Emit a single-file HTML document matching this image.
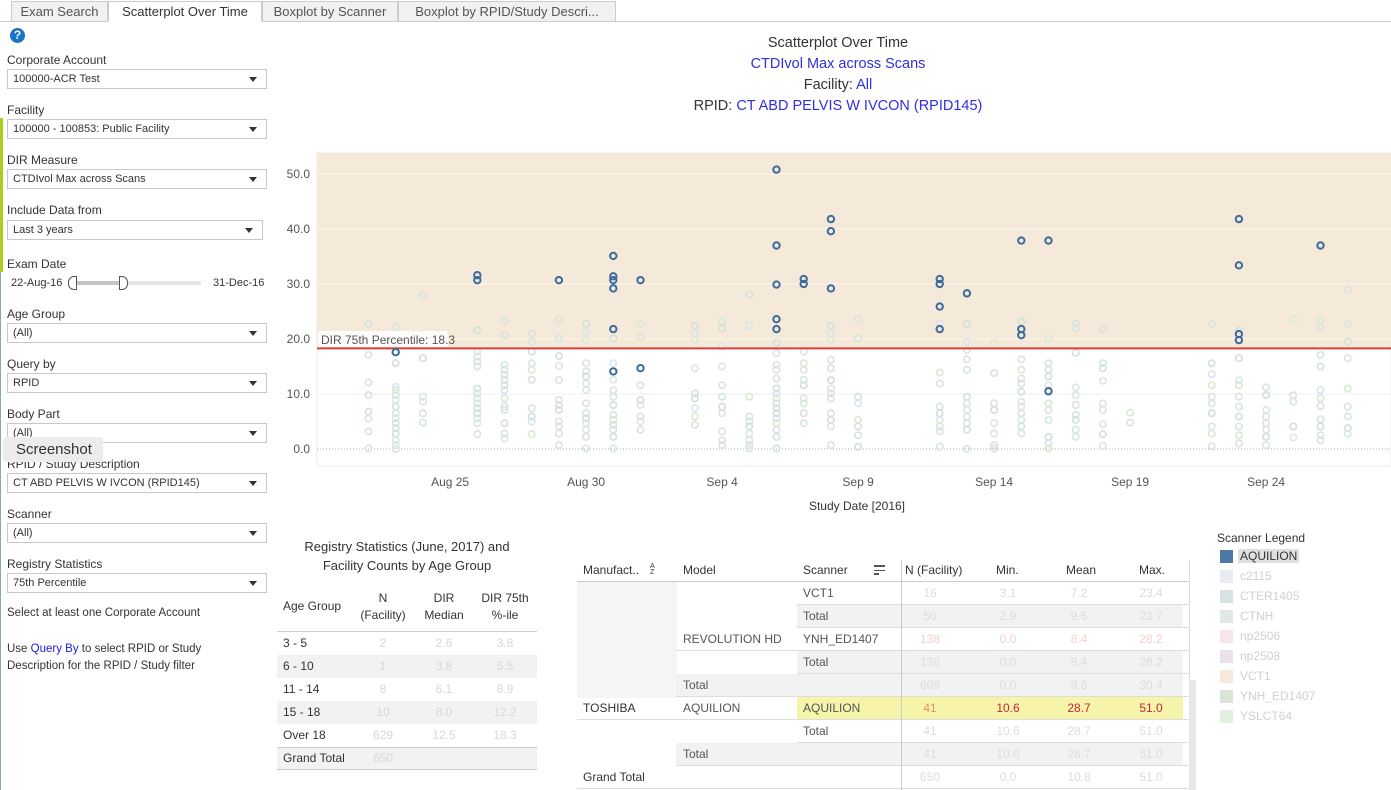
<!DOCTYPE html>
<html><head><meta charset="utf-8">
<style>
*{box-sizing:border-box;margin:0;padding:0}
body{width:1391px;height:790px;overflow:hidden;background:#fff;font-family:"Liberation Sans",sans-serif;color:#333;position:relative}
.abs{position:absolute;white-space:nowrap}
.lbl{font-size:12px;color:#333}
.dd{position:absolute;height:20px;border:1px solid #c8c8c8;background:#fff;font-size:11px;color:#333;padding:3px 0 0 5px}
.dd::after{content:"";position:absolute;right:9px;top:7px;border-left:4px solid transparent;border-right:4px solid transparent;border-top:5px solid #333}
.tab{position:absolute;top:1px;height:21px;border:1px solid #ccc;background:#f1f1f1;font-size:13px;color:#555;padding:2px 0 0 0;text-align:center}
.t{font-size:12px;position:absolute;white-space:nowrap}
.fade{color:#d8d8d8}
</style></head><body>
<div class="abs" style="left:0;top:21px;width:1391px;height:1px;background:#ccc"></div>
<div class="tab" style="left:11px;width:97px">Exam Search</div>
<div class="tab" style="left:108px;width:154px;background:#fff;border-bottom-color:#fff;color:#333">Scatterplot Over Time</div>
<div class="tab" style="left:262px;width:136px">Boxplot by Scanner</div>
<div class="tab" style="left:398px;width:218px">Boxplot by RPID/Study Descri...</div>

<div class="abs" style="left:0;top:118px;width:3px;height:154px;background:#a8d21a"></div>
<div class="abs" style="left:0;top:272px;width:1px;height:518px;background:#8aa"></div>
<div class="abs" style="left:10px;top:28px;width:15px;height:15px;border-radius:50%;background:#1a73c8;color:#fff;font-size:12px;font-weight:bold;text-align:center;line-height:15px">?</div>

<div class="abs lbl" style="left:7px;top:53px">Corporate Account</div>
<div class="dd" style="left:7px;top:69px;width:260px">100000-ACR Test</div>
<div class="abs lbl" style="left:7px;top:103px">Facility</div>
<div class="dd" style="left:7px;top:119px;width:260px">100000 - 100853: Public Facility</div>
<div class="abs lbl" style="left:7px;top:153px">DIR Measure</div>
<div class="dd" style="left:7px;top:169px;width:260px">CTDIvol Max across Scans</div>
<div class="abs lbl" style="left:7px;top:203px">Include Data from</div>
<div class="dd" style="left:7px;top:220px;width:256px">Last 3 years</div>
<div class="abs lbl" style="left:7px;top:257px">Exam Date</div>
<div class="abs" style="left:11px;top:277px;font-size:11px">22-Aug-16</div>
<div class="abs" style="left:213px;top:277px;font-size:11px">31-Dec-16</div>
<div class="abs" style="left:72px;top:281px;width:129px;height:4px;background:#e6e6e6"></div>
<div class="abs" style="left:73px;top:281px;width:50px;height:4px;background:#c4c4c4"></div>
<div class="abs" style="left:68px;top:276px;width:9px;height:14px;border:1px solid #555;background:#fff;border-radius:6px 0 0 6px"></div>
<div class="abs" style="left:119px;top:276px;width:9px;height:14px;border:1px solid #555;background:#fff;border-radius:0 6px 6px 0"></div>

<div class="abs lbl" style="left:7px;top:307px">Age Group</div>
<div class="dd" style="left:7px;top:323px;width:260px">(All)</div>
<div class="abs lbl" style="left:7px;top:357px">Query by</div>
<div class="dd" style="left:7px;top:373px;width:260px">RPID</div>
<div class="abs lbl" style="left:7px;top:407px">Body Part</div>
<div class="dd" style="left:7px;top:423px;width:260px">(All)</div>
<div class="abs lbl" style="left:7px;top:457px">RPID / Study Description</div>
<div class="abs" style="left:3px;top:437px;width:100px;height:25px;background:#ececec;border-radius:3px;font-size:15px;color:#333;padding:4px 0 0 13px">Screenshot</div>
<div class="dd" style="left:7px;top:473px;width:260px">CT ABD PELVIS W IVCON (RPID145)</div>
<div class="abs lbl" style="left:7px;top:507px">Scanner</div>
<div class="dd" style="left:7px;top:523px;width:260px">(All)</div>
<div class="abs lbl" style="left:7px;top:557px">Registry Statistics</div>
<div class="dd" style="left:7px;top:573px;width:260px">75th Percentile</div>
<div class="abs" style="left:7px;top:607px;font-size:11.5px">Select at least one Corporate Account</div>
<div class="abs" style="left:7px;top:641px;font-size:11.5px;line-height:17px">Use <span style="color:#2020e0">Query By</span> to select RPID or Study<br>Description for the RPID / Study filter</div>

<div class="abs" style="left:638px;width:400px;text-align:center;top:35px;font-size:14.5px;color:#333">Scatterplot Over Time</div>
<div class="abs" style="left:638px;width:400px;text-align:center;top:56px;font-size:14.5px;color:#3030e0">CTDIvol Max across Scans</div>
<div class="abs" style="left:638px;width:400px;text-align:center;top:77px;font-size:14.5px">Facility: <span style="color:#3030e0">All</span></div>
<div class="abs" style="left:588px;width:500px;text-align:center;top:98px;font-size:14.5px">RPID: <span style="color:#3030e0">CT ABD PELVIS W IVCON (RPID145)</span></div>

<svg id="chart" class="abs" style="left:0;top:0" width="1391" height="520"></svg>

<div class="abs" style="left:277px;width:260px;top:537px;text-align:center;font-size:13px;line-height:19px">Registry Statistics (June, 2017) and<br>Facility Counts by Age Group</div>
<div id="regtable"></div>
<div id="factable"></div>
<div class="abs" style="left:1217px;top:531px;font-size:12px">Scanner Legend</div>
<div id="legend"></div>

<script>
const darkDays=[1,4,4,7,9,9,9,9,9,9,10,10,15,15,15,15,15,16,16,17,17,17,21,21,21,21,22,24,24,24,25,25,32,32,32,32,35];
const darkVals=[17.6,31.6,30.7,30.7,35.1,31.4,30.7,29.2,21.8,14.1,30.7,14.7,50.8,37.0,29.9,23.6,21.8,30.9,30.0,41.8,39.6,29.2,30.9,30.0,25.9,21.8,28.3,37.9,21.8,20.7,37.9,10.5,41.8,33.4,20.9,19.8,37.0];
const lightDays=[0,1,2,4,5,6,7,8,9,10,12,13,14,15,16,17,18,21,22,23,24,25,26,27,28,31,32,33,34,35,36];
const lightVals=[
[22.8,19.2,17.1,12.1,9.8,6.8,5.5,3.2,0.1],
[22.2,15.6,11.3,10.7,9.8,8.9,7.7,6.5,5.6,4.7,3.8,2.8,1.6,0.7,0],
[27.9,16.5,9.5,8.6,6.5,4.8],
[21.6,17.7,16.8,15.9,15.0,11.0,10.1,9.2,8.3,7.4,6.5,5.6,4.7,2.7],
[23.3,20.7,15.3,14.4,13.5,12.6,11.6,10.7,9.2,7.7,7.1,4.7,2.8,1.9],
[21.0,19.5,17.7,15.6,14.4,12.6,7.4,5.9,5.0,2.7],
[23.5,20.1,16.9,15.1,12.5,8.9,8.0,7.1,5.0,4.1,2.8,0.7],
[22.8,21.3,19.8,15.6,14.1,13.2,11.9,10.7,8.3,6.5,5.6,4.7,3.5,2.2,0.1],
[20.1,15.6,12.6,10.7,9.5,8.0,6.2,5.3,4.4,3.5,2.2,0.1],
[22.8,20.4,11.6,8.9,8.0,5.9,5.0,3.5],
[22.4,21.0,19.8,14.7,10.1,9.2,7.4,5.9,4.4],
[23.2,21.9,18.7,15.0,11.6,9.5,7.7,6.5,3.2,1.6,0.7],
[28.1,22.4,9.5,5.9,5.0,4.1,2.8,1.6,0.7,0.1],
[19.3,17.4,15.3,14.4,12.8,11.0,10.1,9.2,8.3,7.4,6.5,5.6,4.7,3.5,2.2,0.1],
[17.7,15.6,14.4,12.6,11.6,9.2,8.3,6.5,4.7],
[22.4,21.0,19.8,16.2,14.7,12.5,11.0,10.1,9.2,6.5,5.3,4.1,0.7],
[23.6,20.1,9.5,8.3,5.3,4.1,2.5,0.4],
[22.8,13.9,11.9,7.7,6.5,5.3,4.1,3.2,0.4],
[22.7,19.5,18.0,16.3,14.4,9.5,8.3,7.1,5.9,4.7,3.5,0],
[19.2,13.8,8.3,7.1,4.7,2.8,0.7,0.1],
[23.2,16.3,14.4,12.8,11.9,10.4,8.6,7.7,6.5,5.3,4.1,2.8],
[20.1,15.6,14.4,13.2,11.6,8.3,7.1,5.3,2.2,1.0,0.1],
[22.8,21.9,17.5,11.2,9.8,8.0,6.2,5.3,3.5,2.2],
[21.8,15.6,14.7,12.4,8.3,7.1,4.5,2.7,0.6],
[6.6,4.8],
[22.7,15.6,13.6,11.6,9.5,8.3,6.5,4.1,2.8,0.5],
[21.6,16.5,12.5,11.6,9.5,7.7,5.9,4.1,2.5,1.0],
[11.2,9.8,7.1,5.9,4.7,3.5,2.2,0.7],
[23.6,9.8,8.6,4.1,2.1],
[23.5,22.2,17.1,15.0,10.7,9.2,7.8,5.4,4.1,2.5,1.6],
[28.9,22.8,19.5,16.5,11.0,7.7,5.9,3.8,2.8]];
const yTicks=[0,10,20,30,40,50];
const xTickDays=[3,8,13,18,23,28,33];
const xTickLabels=["Aug 25","Aug 30","Sep 4","Sep 9","Sep 14","Sep 19","Sep 24"];
const threshold=18.3;
const lightColors=["#d2e0dc","#d8e5ec","#d9e8d5","#dde1de","#d4e5e2"];

const NS="http://www.w3.org/2000/svg";
const svg=document.getElementById('chart');
const xS=d=>368.5+d*27.2;
const yS=v=>449-v*5.5;
function mk(tag,attrs){const e=document.createElementNS(NS,tag);for(const k in attrs)e.setAttribute(k,attrs[k]);svg.appendChild(e);return e;}
let e;
e=mk('rect',{x:317,y:153,width:1074,height:313,fill:'#fff',stroke:'#ececec'});


e=mk('rect',{x:317,y:153,width:1074,height:yS(threshold)-153,fill:'#f5ead9'});


yTicks.forEach(v=>{
  if(v>0){e=mk('line',{x1:317,x2:1391,y1:yS(v),y2:yS(v),stroke:v>threshold?'#fbf5ec':'#efefef','stroke-width':1});
  
  }
  e=mk('text',{x:310,y:yS(v)+4,'text-anchor':'end','font-size':12,fill:'#555','font-family':'Liberation Sans'});
  e.textContent=v.toFixed(1);
  
  
});
e=mk('line',{x1:317,x2:1391,y1:yS(0),y2:yS(0),stroke:'#aaa','stroke-dasharray':'1,2'});


xTickDays.forEach((d,i)=>{
  e=mk('text',{x:xS(d),y:486,'text-anchor':'middle','font-size':12,fill:'#555','font-family':'Liberation Sans'});
  e.textContent=xTickLabels[i];
  
  
});
e=mk('text',{x:857,y:510,'text-anchor':'middle','font-size':12,fill:'#333','font-family':'Liberation Sans'});
e.textContent='Study Date [2016]';


let k=0;
lightDays.forEach((d,i)=>{lightVals[i].forEach(v=>{
  e=mk('circle',{cx:xS(d),cy:yS(v),r:3.2,fill:'none',stroke:lightColors[k++%lightColors.length],'stroke-width':1.6});
  
  
});});
e=mk('line',{x1:317,x2:1391,y1:yS(threshold),y2:yS(threshold),stroke:'#d9403c','stroke-width':2});


e=mk('rect',{x:318,y:331,width:130,height:16,fill:'#fff','fill-opacity':0.85});


e=mk('text',{x:321,y:344,'font-size':12,fill:'#555','font-family':'Liberation Sans'});
e.textContent='DIR 75th Percentile: '+threshold;


darkDays.forEach((d,i)=>{
  e=mk('circle',{cx:xS(d),cy:yS(darkVals[i]),r:3.2,fill:'none',stroke:'#3d6a9e','stroke-width':2});
  
  
});

const ageGroups=["3 - 5","6 - 10","11 - 14","15 - 18","Over 18","Grand Total"];
const ageN=["2","1","8","10","629","650"];
const ageMed=["2.6","3.8","6.1","8.0","12.5",""];
const age75=["3.8","5.5","8.9","12.2","18.3",""];
let h='';
h+='<div class="t" style="left:283px;top:599px">Age Group</div>';
h+='<div class="t" style="left:343px;width:80px;text-align:center;top:590px;line-height:17px">N<br>(Facility)</div>';
h+='<div class="t" style="left:414px;width:60px;text-align:center;top:590px;line-height:17px">DIR<br>Median</div>';
h+='<div class="t" style="left:470px;width:70px;text-align:center;top:590px;line-height:17px">DIR 75th<br>%-ile</div>';
h+='<div class="abs" style="left:277px;top:631px;width:260px;height:1px;background:#ccc"></div>';
ageGroups.forEach((g,i)=>{
  const top=632+i*23;
  const bg=(i%2==1)?'#f2f2f2':'#fff';
  h+='<div class="abs" style="left:277px;top:'+top+'px;width:260px;height:23px;background:'+bg+(i==5?';border-top:1px solid #ccc;border-bottom:1px solid #ccc':'')+'"></div>';
  h+='<div class="t" style="left:283px;top:'+(top+4)+'px">'+g+'</div>';
  h+='<div class="t fade" style="left:343px;width:80px;text-align:center;top:'+(top+4)+'px">'+ageN[i]+'</div>';
  h+='<div class="t fade" style="left:414px;width:60px;text-align:center;top:'+(top+4)+'px">'+ageMed[i]+'</div>';
  h+='<div class="t fade" style="left:470px;width:70px;text-align:center;top:'+(top+4)+'px">'+age75[i]+'</div>';
});
document.getElementById('regtable').innerHTML=h;

const fRows=[
 ["","","VCT1","16","3.1","7.2","23.4",0],
 ["","","Total","50","2.9","9.5","23.7",1],
 ["","REVOLUTION HD","YNH_ED1407","138","0.0","8.4","28.2",0],
 ["","","Total","138","0.0","8.4","28.2",1],
 ["","Total","","609","0.0","9.6","30.4",2],
 ["TOSHIBA","AQUILION","AQUILION","41","10.6","28.7","51.0",3],
 ["","","Total","41","10.6","28.7","51.0",0],
 ["","Total","","41","10.6","28.7","51.0",2],
 ["Grand Total","","","650","0.0","10.8","51.0",0]];
h='';
h+='<div class="abs" style="left:577px;top:581px;width:100px;height:117px;background:#f5f5f5"></div>';
h+='<div class="t" style="left:583px;top:563px">Manufact..</div>';
h+='<div class="t" style="left:650px;top:564px;font-size:7px;line-height:6px">A<br>Z</div>';
h+='<div class="t" style="left:683px;top:563px">Model</div>';
h+='<div class="t" style="left:803px;top:563px">Scanner</div>';
h+='<div class="abs" style="left:874px;top:565px;width:11px;height:2px;background:#555;box-shadow:0 3px 0 #fff,0 4px 0 #555"></div><div class="abs" style="left:874px;top:573px;width:5px;height:2px;background:#555"></div>';
h+='<div class="t" style="left:905px;top:563px">N (Facility)</div>';
h+='<div class="t" style="left:996px;top:563px">Min.</div>';
h+='<div class="t" style="left:1066px;top:563px">Mean</div>';
h+='<div class="t" style="left:1139px;top:563px">Max.</div>';
h+='<div class="abs" style="left:577px;top:581px;width:612px;height:1px;background:#ccc"></div>';
fRows.forEach((r,i)=>{
  const top=582+i*23;
  const lineX=r[0]?577:(r[1]?676:797);
  let bg='#fff';
  if(r[7]==1||r[7]==2)bg='#f2f2f2';
  if(r[7]==3)bg='#f6f4a8';
  const bgX=(r[7]==2)?676:797;
  if(r[7]>0)h+='<div class="abs" style="left:'+bgX+'px;top:'+top+'px;width:'+(1183-bgX)+'px;height:23px;background:'+bg+'"></div>';
  h+='<div class="abs" style="left:'+lineX+'px;top:'+(top+22)+'px;width:'+(1189-lineX)+'px;height:1px;background:#ddd"></div>';
  h+='<div class="t" style="left:583px;top:'+(top+4)+'px">'+r[0]+'</div>';
  h+='<div class="t" style="left:683px;top:'+(top+4)+'px;color:#555">'+r[1]+'</div>';
  h+='<div class="t" style="left:803px;top:'+(top+4)+'px;color:#555">'+r[2]+'</div>';
  const hl=r[7]==3;
  const cols=[[3,930],[4,1008],[5,1079],[6,1151]];
  cols.forEach(([j,cx],ci)=>{
    const col=hl?(ci==0?'#e8906a':'#c8283a'):(i==2?'#f2d2d2':'#dcdcdc');
    h+='<div class="t" style="left:'+(cx-30)+'px;width:60px;text-align:center;top:'+(top+4)+'px;color:'+col+'">'+r[j]+'</div>';
  });
});
h+='<div class="abs" style="left:901px;top:560px;width:1px;height:230px;background:#ccc"></div>';
h+='<div class="abs" style="left:1189px;top:560px;width:1px;height:230px;background:#ddd"></div>';
h+='<div class="abs" style="left:1189px;top:680px;width:7px;height:110px;background:#e8e8e8"></div>';
document.getElementById('factable').innerHTML=h;

const legNames=["AQUILION","c2115","CTER1405","CTNH","np2506","np2508","VCT1","YNH_ED1407","YSLCT64"];
const legColors=["#4e79a7","#e8ebf1","#d6e3e2","#dfe9e5","#f7e5ea","#ebe1eb","#f8e8dc","#d9e6d6","#e3efe0"];
h='';
legNames.forEach((n,i)=>{
  const top=550+i*20;
  h+='<div class="abs" style="left:1220px;top:'+top+'px;width:13px;height:13px;background:'+legColors[i]+'"></div>';
  h+='<div class="t" style="left:1238px;top:'+(top-1)+'px;padding:0 2px;'+(i==0?'background:#e0e0e0;color:#333':'color:#d0d0d0')+'">'+n+'</div>';
});
document.getElementById('legend').innerHTML=h;
</script>
</body></html>
